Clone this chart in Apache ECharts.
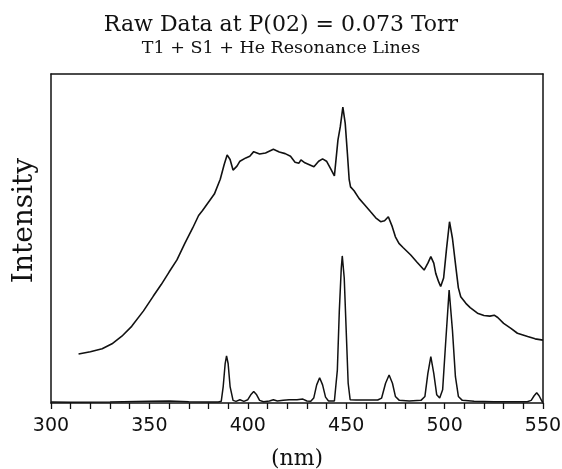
<!DOCTYPE html>
<html>
<head>
<meta charset="utf-8">
<script src="https://cdn.jsdelivr.net/npm/echarts@6.0.0/dist/echarts.min.js"></script>
<style>
  html, body { margin: 0; padding: 0; background: #fff; }
  #chart { width: 562px; height: 469px; }
</style>
</head>
<body>
<div id="chart"></div>
<script>
// 波长 (nm) 与强度 (任意单位, 0-100)
const rawNm = [
  314, 320, 326, 331, 336, 341, 347, 352, 356, 360, 364, 368, 372, 375, 377, 380, 383, 384,
  386, 388, 389.5, 391, 392.5, 394.5, 396, 397, 399, 401, 403, 406, 409, 413, 416, 419,
  421.7, 424, 426, 427, 429, 431, 433.6, 436, 438, 440, 442, 444, 445.8, 447, 448.3, 449.5,
  450.6, 451.5, 452.2, 454, 456.5, 459, 462.4, 465, 467.5, 469.5, 471.4, 473.4, 475, 476.8,
  479, 482.8, 486, 489.6, 491.5, 493, 494.5, 495.5, 497, 498, 499.5, 501, 502.5, 504, 505.7,
  507, 508.2, 510.8, 513, 516.7, 520, 523, 525.2, 527, 530, 533.7, 537, 542.2, 546, 550
];
const rawIntensity = [
  14.9, 15.6, 16.5, 18.0, 20.3, 23.3, 28.0, 32.5, 36.0, 39.8, 43.5, 48.5, 53.2, 57.0, 58.5, 61.0, 63.5, 63.7,
  68.0, 72.5, 75.4, 74.0, 70.8, 72.0, 73.5, 73.0, 74.5, 75.0, 76.4, 75.7, 76.0, 77.1, 76.3, 75.8,
  75.0, 73.2, 72.9, 73.9, 73.0, 72.5, 71.8, 73.5, 74.2, 73.5, 71.3, 69.0, 79.9, 84.0, 89.9, 85.0,
  75.9, 68.0, 65.7, 64.5, 62.2, 60.5, 58.1, 56.3, 55.1, 55.4, 56.6, 53.6, 50.5, 48.5,
  47.2, 45.0, 42.8, 40.4, 42.5, 44.5, 42.5, 39.4, 36.8, 35.4, 38.0, 47.0, 55.1, 50.0, 41.4,
  35.0, 32.3, 30.3, 29.0, 27.3, 26.6, 26.4, 26.7, 26.0, 24.2, 22.7, 21.2, 20.2, 19.5, 19.1
];

// 共振线 (He 参考谱)
const lineNm = [
  300, 310, 330, 350, 360, 370, 380, 385, 386.5, 387.5, 388.5, 389.2, 390, 391, 392.5, 394, 396, 398,
  400, 401.5, 403, 404.5, 406, 408, 411, 413, 415, 418, 421, 425, 428, 430, 432, 433.5, 435, 436.5,
  438, 439.5, 441, 444, 445.5, 446.5, 447.5, 448, 449, 450, 451, 452, 455, 460, 466, 468, 470, 471.8,
  473.5, 475, 477, 482, 488, 490, 491.5, 493, 494.5, 496, 497.5, 499, 500.5, 502.3, 504, 505.5, 507,
  509, 515, 525, 535, 542, 544, 545.5, 546.8, 548, 549.5, 550
];
const lineIntensity = [
  0.3, 0.2, 0.3, 0.5, 0.6, 0.4, 0.3, 0.3, 0.5, 5, 12, 14.3, 12, 5, 0.8, 0.5, 1.0, 0.5,
  1.0, 2.5, 3.5, 2.5, 0.8, 0.4, 0.6, 1.0, 0.6, 0.8, 1.0, 1.0, 1.2, 0.6, 0.5, 1.5, 5.5, 7.7,
  5.5, 1.8, 0.6, 0.6, 10, 28, 41, 44.7, 38, 22, 6, 1.0, 0.9, 0.9, 0.9, 1.5, 6, 8.5,
  6, 2, 0.8, 0.6, 0.8, 2, 9, 14.1, 9, 2.5, 1.5, 4, 18, 34.3, 22, 8, 2,
  0.8, 0.5, 0.4, 0.4, 0.4, 0.8, 2.2, 3.1, 2.2, 0.5, 0.3
];

const xTicks = { min: 300, max: 550, step: 50 };

const zip = (xs, ys) => xs.map((x, i) => [x, ys[i]]);

const chart = echarts.init(document.getElementById('chart'), null, { renderer: 'canvas' });
const ink = '#111';
const frameLine = { show: true, onZero: false, lineStyle: { color: ink, width: 1.5 } };
const off = { show: false };

chart.setOption({
  backgroundColor: '#fff',
  animation: false,
  title: [
    {
      text: 'Raw Data at P(02) = 0.073 Torr',
      left: 'center', top: 9,
      textStyle: { fontFamily: 'DejaVu Serif', fontSize: 22, fontWeight: 'normal', color: ink }
    },
    {
      text: 'T1 + S1 + He Resonance Lines',
      left: 'center', top: 34,
      textStyle: { fontFamily: 'DejaVu Serif', fontSize: 17.5, fontWeight: 'normal', color: ink }
    }
  ],
  grid: { left: 51, right: 19, top: 74, bottom: 66, outerBoundsMode: 'none' },
  xAxis: [
    {
      type: 'value', position: 'bottom',
      min: xTicks.min, max: xTicks.max, interval: xTicks.step,
      name: '(nm)', nameLocation: 'middle', nameGap: 45,
      nameTextStyle: { fontFamily: 'DejaVu Serif', fontSize: 22, color: ink },
      axisLine: frameLine,
      axisTick: { show: true, length: 6, lineStyle: { color: ink, width: 1.3 } },
      minorTick: { show: true, splitNumber: 5, length: 6, lineStyle: { color: ink, width: 1.3 } },
      axisLabel: { fontFamily: 'DejaVu Sans', fontSize: 19, color: ink, margin: 14 },
      splitLine: off
    },
    {
      type: 'value', position: 'top',
      min: xTicks.min, max: xTicks.max, interval: xTicks.step,
      axisLine: frameLine, axisTick: off, axisLabel: off, splitLine: off
    }
  ],
  yAxis: [
    {
      type: 'value', position: 'left', min: 0, max: 100,
      name: 'Intensity', nameLocation: 'middle', nameGap: 12,
      nameTextStyle: { fontFamily: 'DejaVu Serif', fontSize: 28, color: ink, padding: [0, 0, 0, 36] },
      axisLine: frameLine, axisTick: off, axisLabel: off, splitLine: off
    },
    {
      type: 'value', position: 'right', min: 0, max: 100,
      axisLine: frameLine, axisTick: off, axisLabel: off, splitLine: off
    }
  ],
  series: [
    {
      name: 'raw', type: 'line', data: zip(rawNm, rawIntensity),
      showSymbol: false, lineStyle: { color: ink, width: 1.6 }
    },
    {
      name: 'resonance', type: 'line', data: zip(lineNm, lineIntensity),
      showSymbol: false, lineStyle: { color: ink, width: 1.5 }
    }
  ]
});
</script>
</body>
</html>
